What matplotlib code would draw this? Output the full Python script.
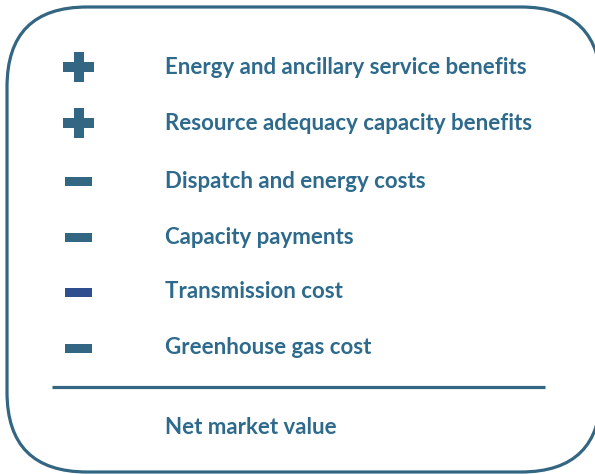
import matplotlib
matplotlib.use("Agg")
import matplotlib.pyplot as plt
from matplotlib.patches import FancyBboxPatch, Rectangle

labels = [
    "Energy and ancillary service benefits",
    "Resource adequacy capacity benefits",
    "Dispatch and energy costs",
    "Capacity payments",
    "Transmission cost",
    "Greenhouse gas cost",
]
signs = ["+", "+", "-", "-", "-", "-"]
sign_colors = ["#336683", "#336683", "#336683", "#336683", "#2F4E8E", "#336683"]
total_label = "Net market value"

TEXT = "#2D6A8C"
EDGE = "#336683"
FS = 16

W, H = 595, 474
fig = plt.figure(figsize=(W / 100, H / 100), dpi=100)
ax = fig.add_axes([0, 0, 1, 1])
ax.set_xlim(0, W)
ax.set_ylim(H, 0)
ax.axis("off")

# rounded frame (right edge runs just past the image)
r = 80
left, top, right, bottom = 7, 7, 601, 472
box = FancyBboxPatch((left + r, top + r), right - left - 2 * r, bottom - top - 2 * r,
                     boxstyle=f"round,pad={r}", fc="white", ec=EDGE, lw=2.3,
                     clip_on=False)
ax.add_patch(box)

ys = [67, 123, 181, 237, 292, 348]
for y, s, c, lab in zip(ys, signs, sign_colors, labels):
    if s == "+":
        ax.add_patch(Rectangle((63, y - 5), 31, 10, fc=c, ec="none"))
        ax.add_patch(Rectangle((73.5, y - 15), 10, 30, fc=c, ec="none"))
    else:
        ax.add_patch(Rectangle((65, y - 4.5), 27, 9, fc=c, ec="none"))
    ax.text(165, y, lab, color=TEXT, fontsize=FS, fontweight="bold",
            family="Lato", va="center", ha="left")

ax.plot([52, 545], [387, 387], color=EDGE, lw=2.3, solid_capstyle="butt")
ax.text(165, 428, total_label, color=TEXT, fontsize=FS, fontweight="bold",
        family="Lato", va="center", ha="left")

fig.savefig("out.png", dpi=100)
